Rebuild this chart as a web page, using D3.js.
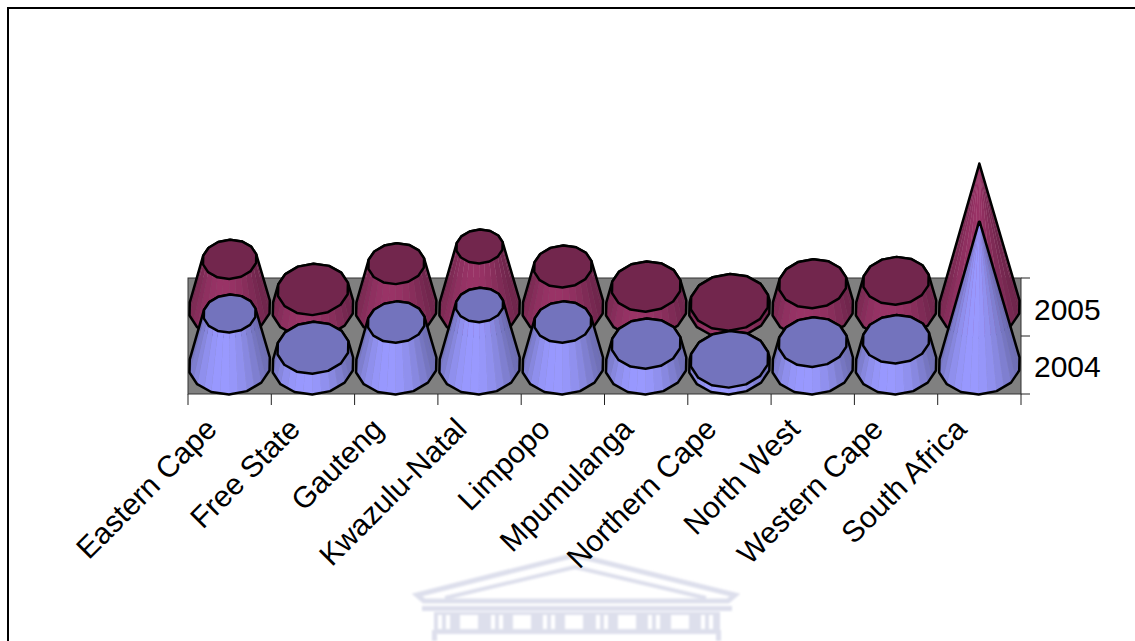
<!DOCTYPE html>
<html>
<head>
<meta charset="utf-8">
<script src="https://cdnjs.cloudflare.com/ajax/libs/d3/7.8.5/d3.min.js"></script>
<style>
html, body { margin: 0; padding: 0; background: #fff; overflow: hidden; }
svg { display: block; }
text { font-family: "Liberation Sans", Arial, sans-serif; fill: #000; }
</style>
</head>
<body>
<svg id="chart" width="1135" height="641"></svg>
<script>
var categories = ["Eastern Cape", "Free State", "Gauteng", "Kwazulu-Natal", "Limpopo",
                  "Mpumulanga", "Northern Cape", "North West", "Western Cape", "South Africa"];
var seriesNames = ["2005", "2004"];   // back to front
// as % of the South Africa 2004 cone
var values2004 = [36, 12, 30, 42, 30, 15, 4, 16, 18, 100];
var values2005 = [34, 13, 31, 43, 29, 15, 4, 17, 19, 101];
var seriesValues = {"2004": values2004, "2005": values2005};
var seriesColors = {
    "2004": {top: "#7373BD", light: "#9999FF", dark: "#6F6FB4"},
    "2005": {top: "#72264D", light: "#993366", dark: "#70264C"}
};

var svg = d3.select("#chart");

// page border, runs off the right and bottom of the picture
svg.append("rect").attr("x", 8).attr("y", 8).attr("width", 1140).attr("height", 700)
    .attr("fill", "#fff").attr("stroke", "#000").attr("stroke-width", 2);

// faint building in the background
var defs = svg.append("defs");
defs.append("filter").attr("id", "soft").append("feGaussianBlur").attr("stdDeviation", 1);
var wm = svg.append("g").attr("filter", "url(#soft)");
var wmColor = "#DDDFEC";
wm.append("path").attr("d", "M417,595 L575,555 L735,595 L728,601 L424,601 Z")
    .attr("fill", "none").attr("stroke", wmColor).attr("stroke-width", 5);
wm.append("path").attr("d", "M445,598 L575,567 L706,598")
    .attr("fill", "none").attr("stroke", wmColor).attr("stroke-width", 4);
wm.append("rect").attr("x", 422).attr("y", 606).attr("width", 310).attr("height", 5).attr("fill", wmColor);
wm.append("rect").attr("x", 434).attr("y", 612).attr("width", 286).attr("height", 22).attr("fill", wmColor);
[460, 513, 565, 618, 671].forEach(function(x) {
    wm.append("rect").attr("x", x).attr("y", 615).attr("width", 18).attr("height", 14).attr("fill", "#fff");
});
[438, 446, 491, 499, 543, 551, 596, 604, 648, 656, 701, 709].forEach(function(x) {
    wm.append("rect").attr("x", x).attr("y", 615).attr("width", 4).attr("height", 14).attr("fill", "#fff");
});
wm.append("rect").attr("x", 432).attr("y", 630).attr("width", 5).attr("height", 11).attr("fill", wmColor);
wm.append("rect").attr("x", 716).attr("y", 630).attr("width", 5).attr("height", 11).attr("fill", wmColor);

var x = d3.scaleBand().domain(categories).range([188, 1021]);
var depth = d3.scalePoint().domain(seriesNames).range([308, 365]);
var height = d3.scaleLinear().domain([0, 100]).range([0, 143]);
var vmax = d3.max(values2005);

var floorTop = 278, floorBottom = 394;
var R = 41, squash = 0.72, sides = 14, turn = 0.19, lean = 0.07;

// grey floor
svg.append("rect").attr("x", x.range()[0]).attr("y", floorTop)
    .attr("width", x.range()[1] - x.range()[0]).attr("height", floorBottom - floorTop)
    .attr("fill", "#808080").attr("stroke", "#333").attr("stroke-width", 1);

// tick marks
var axisLine = svg.append("g").attr("stroke", "#222").attr("stroke-width", 1);
d3.range(categories.length + 1).forEach(function(i) {
    var tx = x.range()[0] + i * x.step();
    axisLine.append("line").attr("x1", tx).attr("x2", tx).attr("y1", floorBottom).attr("y2", 405);
});
[floorTop, (floorTop + floorBottom) / 2, floorBottom].forEach(function(ty) {
    axisLine.append("line").attr("x1", 1021).attr("x2", 1030).attr("y1", ty).attr("y2", ty);
});

function ring(cx, cy, r) {
    return d3.range(sides).map(function(k) {
        var a = turn + k * 2 * Math.PI / sides,
            dy = r * squash * Math.sin(a);
        return [cx + r * Math.cos(a) - lean * dy, cy + dy];
    });
}
function lerp(p, q, t) { return [p[0] + (q[0] - p[0]) * t, p[1] + (q[1] - p[1]) * t]; }

function drawCone(g, cx, baseY, v, col) {
    var h = height(v),
        topR = R * (1 - v / vmax),
        base = ring(cx, baseY, R),
        top = ring(cx, baseY - h, topR),
        hull = d3.polygonHull(base.concat(top)),
        line = d3.line();
    var shade = d3.interpolateRgb(col.dark, col.light);

    // side facets, each polygon edge cut in two
    base.forEach(function(b0, k) {
        var k1 = (k + 1) % sides;
        [0, 0.5].forEach(function(t) {
            var mid = turn + (k + t + 0.25) * 2 * Math.PI / sides;
            if (Math.sin(mid) < -0.15) return;
            var s = Math.max(0, Math.cos(mid - 1.75));
            g.append("path")
                .attr("d", line([lerp(b0, base[k1], t), lerp(b0, base[k1], t + 0.5),
                                 lerp(top[k], top[k1], t + 0.5), lerp(top[k], top[k1], t)]) + "Z")
                .attr("fill", shade(Math.pow(s, 1.6)))
                .attr("stroke", shade(Math.pow(s, 1.6)))
                .attr("stroke-width", 0.4);
        });
    });
    g.append("path").attr("d", line(hull) + "Z")
        .attr("fill", "none").attr("stroke", "#000").attr("stroke-width", 2.5).attr("stroke-linejoin", "round");
    if (topR > 0.5) {
        g.append("path").attr("d", line(top) + "Z")
            .attr("fill", col.top).attr("stroke", "#000").attr("stroke-width", 2.5).attr("stroke-linejoin", "round");
    }
}

seriesNames.forEach(function(name) {
    var g = svg.append("g").attr("class", "series-" + name);
    categories.forEach(function(c, i) {
        drawCone(g, x(c) + x.bandwidth() / 2, depth(name), seriesValues[name][i], seriesColors[name]);
    });
    svg.append("text").attr("x", 1034).attr("y", depth(name) + 12)
        .attr("font-size", 30).text(name);
});

// category labels, slanted and ending under the cone
svg.append("g").selectAll("text").data(categories).enter().append("text")
    .attr("text-anchor", "end")
    .attr("font-size", 30)
    .attr("transform", function(d) { return "translate(" + (x(d) + x.bandwidth() / 2 - 26) + ",416) rotate(-45)"; })
    .attr("dy", "0.7em")
    .text(function(d) { return d; });
</script>
</body>
</html>
